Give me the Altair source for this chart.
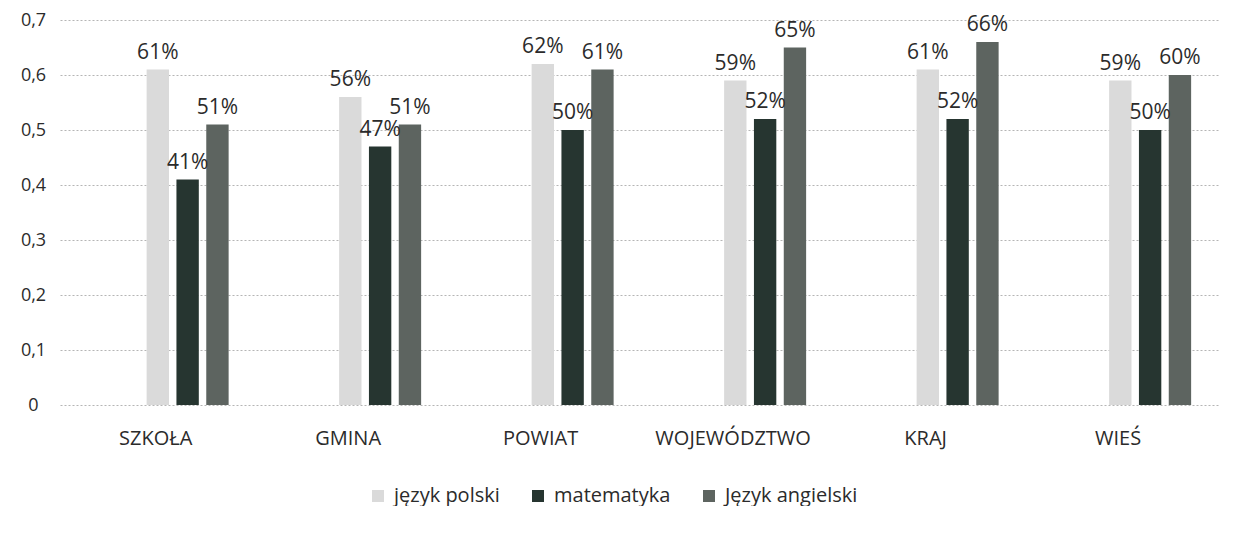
import altair as alt
import pandas as pd

categories = ["SZKOŁA", "GMINA", "POWIAT", "WOJEWÓDZTWO", "KRAJ", "WIEŚ"]
series = ["język polski", "matematyka", "Język angielski"]
polski = [0.61, 0.56, 0.62, 0.59, 0.61, 0.59]
matematyka = [0.41, 0.47, 0.50, 0.52, 0.52, 0.50]
angielski = [0.51, 0.51, 0.61, 0.65, 0.66, 0.60]
colors = ["#dadada", "#263530", "#5d6460"]

rows = []
for i, c in enumerate(categories):
    for s, vals in zip(series, [polski, matematyka, angielski]):
        rows.append({"kategoria": c, "seria": s, "wartosc": vals[i]})
df = pd.DataFrame(rows)

FONT = "Open Sans"
TXT = "#2b2b2b"

x = alt.X("kategoria:N", sort=categories, title=None,
          scale=alt.Scale(paddingInner=0.574, paddingOuter=0.30, align=0.75),
          axis=alt.Axis(labelAngle=0, labelFontSize=20, labelFont=FONT, labelColor=TXT,
                        labelPadding=23, labelOffset=-32, ticks=False, domain=False,
                        grid=False, labelBaseline="top"))
xo = alt.XOffset("seria:N", sort=series,
                 scale=alt.Scale(paddingInner=0.25, paddingOuter=0))
y = alt.Y("wartosc:Q", title=None,
          scale=alt.Scale(domain=[0, 0.7], nice=False),
          axis=alt.Axis(values=[0, 0.1, 0.2, 0.3, 0.4, 0.5, 0.6, 0.7],
                        labelExpr="datum.value == 0 ? '0' : replace(format(datum.value, '.1f'), '.', ',')",
                        labelFontSize=18, labelFont=FONT, labelColor=TXT,
                        labelAlign="center", labelPadding=27, tickSize=0, ticks=False,
                        domain=False, grid=True, gridColor="#b5b5b5",
                        gridDash=[2, 2], gridWidth=1))

bars = alt.Chart(df).mark_bar().encode(
    x=x, xOffset=xo, y=y,
    color=alt.Color("seria:N", sort=series,
                    scale=alt.Scale(domain=series, range=colors),
                    legend=alt.Legend(title=None, orient="none", direction="horizontal",
                                      legendX=308, legendY=466, symbolType="square",
                                      symbolSize=144, labelFontSize=20, labelFont=FONT,
                                      labelColor=TXT, columnPadding=28, labelOffset=6,
                                      symbolStrokeWidth=0, labelLimit=300)),
)

labels = alt.Chart(df).mark_text(font=FONT, fontSize=21, color=TXT,
                                 baseline="middle", dy=-17).encode(
    x=x, xOffset=xo, y=y,
    text=alt.Text("wartosc:Q", format=".0%"),
)

chart = alt.layer(bars, labels).properties(
    width=1160, height=385,
    padding={"left": 12, "top": 3, "right": 0, "bottom": 0},
    background="white",
).configure_view(stroke=None)

chart.save("out.html", embed_options={"renderer": "svg", "actions": False})
